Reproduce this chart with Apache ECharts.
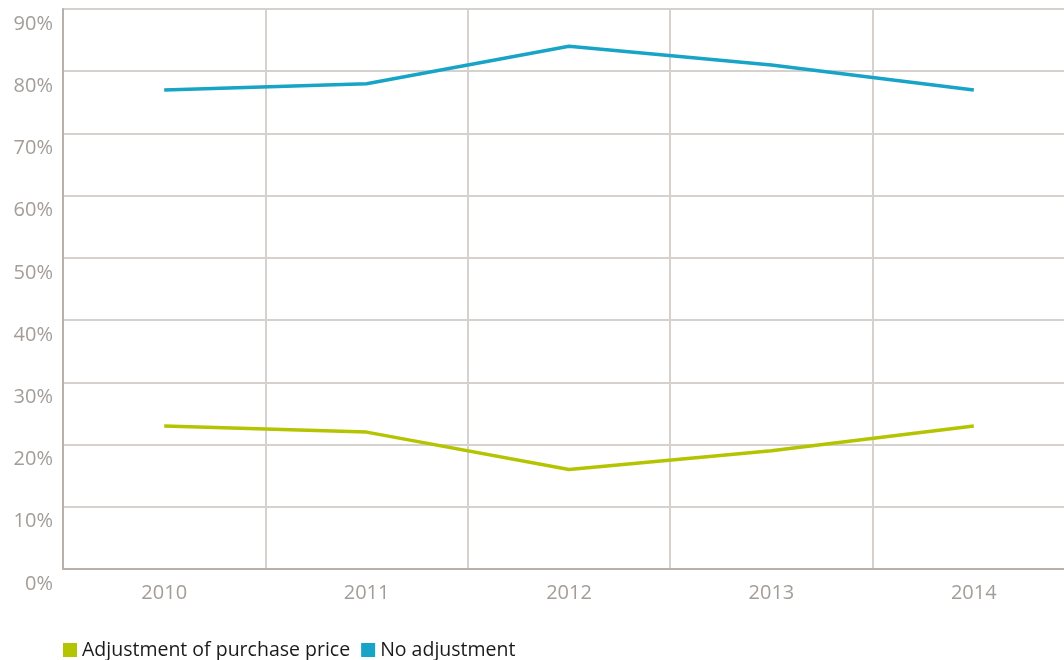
<!DOCTYPE html>
<html>
<head>
<meta charset="utf-8">
<script src="https://cdn.jsdelivr.net/npm/echarts@6/dist/echarts.min.js"></script>
<style>
  html, body { margin: 0; padding: 0; background: #fff; overflow: hidden; }
  /* the plot runs a little past the right edge of the window */
  #chart { width: 1076px; height: 660px; }
</style>
</head>
<body>
<div id="chart"></div>
<script>
// Share of transactions by year
var years = ['2010', '2011', '2012', '2013', '2014'];
var adjustment = [23, 22, 16, 19, 23];
var noAdjustment = [77, 78, 84, 81, 77];
var seriesNames = ['Adjustment of purchase price', 'No adjustment'];

var labelColor = '#a39d98';
var fontFamily = '"Open Sans", "Noto Sans", sans-serif';

var chart = echarts.init(document.getElementById('chart'), null, { renderer: 'canvas' });
chart.setOption({
  animation: false,
  backgroundColor: '#ffffff',
  grid: { left: 63, top: 9, right: 1, bottom: 91, containLabel: false },
  legend: {
    left: 58,
    top: 635,
    icon: 'rect',
    itemWidth: 14,
    itemHeight: 14,
    itemGap: 11,
    textStyle: { color: '#1a1a1a', fontSize: 19.5, fontFamily: fontFamily },
    data: seriesNames
  },
  xAxis: {
    type: 'category',
    data: years,
    boundaryGap: true,
    axisLine: { lineStyle: { color: '#b8b0aa', width: 2 } },
    axisTick: { show: false },
    splitLine: { show: true, lineStyle: { color: '#d6d1cc', width: 2 } },
    axisLabel: { color: labelColor, fontSize: 20, fontFamily: fontFamily, margin: 14 }
  },
  yAxis: {
    type: 'value',
    min: 0,
    max: 90,
    interval: 10,
    axisLine: { show: true, lineStyle: { color: '#b8b0aa', width: 2 } },
    axisTick: { show: false },
    splitLine: { lineStyle: { color: '#d6d1cc', width: 2 } },
    axisLabel: {
      color: labelColor, fontSize: 20, fontFamily: fontFamily, margin: 10,
      verticalAlign: 'top', lineHeight: 30,
      formatter: function (v) { return v + '%'; }
    }
  },
  series: [
    {
      name: seriesNames[0],
      type: 'line',
      data: adjustment,
      symbol: 'none',
      color: '#b4c400',
      lineStyle: { width: 3.5, color: '#b4c400' }
    },
    {
      name: seriesNames[1],
      type: 'line',
      data: noAdjustment,
      symbol: 'none',
      color: '#17a4c6',
      lineStyle: { width: 3.5, color: '#17a4c6' }
    }
  ]
});
</script>
</body>
</html>
